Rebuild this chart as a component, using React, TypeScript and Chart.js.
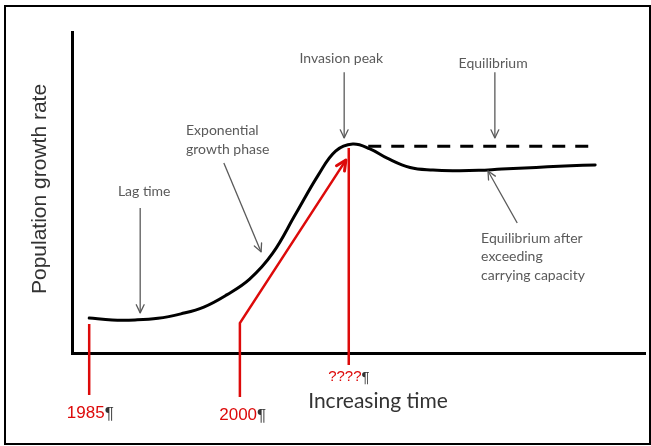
import React, { useEffect, useRef } from "react";
import { Chart, registerables } from "chart.js";

Chart.register(...registerables);

// Main population curve (time units 0..100, growth-rate units 0..100)
const curveX = [3, 7, 11, 15, 19, 23, 27, 31, 35, 39, 43, 46, 49, 52, 55, 59, 63, 67, 71, 75, 79, 83, 87, 91.3];
const curveY = [10.9, 10.3, 10.3, 10.8, 12.2, 14.3, 18.1, 23.0, 31.0, 43.2, 55.5, 62.9, 65.1, 63.6, 60.7, 57.8, 57.0, 56.8, 56.9, 57.3, 57.6, 58.0, 58.3, 58.6];

// Dashed equilibrium (carrying capacity) line
const equilibriumX = [51.7, 90.4];
const equilibriumY = [64.4, 64.4];

// Red year markers
const red1985X = [3, 3];
const red1985Y = [9, -13.1];
const red2000X = [29.3, 29.3, 47.8];
const red2000Y = [-13.7, 9.3, 60.1];
const redPeakX = [48.3, 48.3];
const redPeakY = [63.9, -3.7];

const yearLabels = ["1985", "2000", "????"];
const yearLabelX = [-0.9, 25.7, 44.7];
const yearLabelY = [-18.7, -19.3, -7.5];

const xAxisTitle = "Increasing time";
const yAxisTitle = "Population growth rate";

// Annotations
const noteTexts = [
  ["Lag time"],
  ["Exponential", "growth phase"],
  ["Invasion peak"],
  ["Equilibrium"],
  ["Equilibrium after", "exceeding", "carrying capacity"],
];
const noteX = [12.6, 19.9, 47.0, 73.5, 71.4];
const noteY = [50.2, 69.2, 91.9, 90.3, 35.8];
const noteAlign = ["center", "left", "center", "center", "left"];

const arrowFromX = [11.9, 26.5, 47.5, 73.8, 77.7];
const arrowFromY = [45.2, 59.2, 87.5, 87.5, 40.5];
const arrowToX = [11.9, 33.0, 47.5, 73.8, 72.6];
const arrowToY = [12.5, 31.5, 67.0, 67.0, 56.7];

const toPts = (xs: number[], ys: number[]) => xs.map((x, i) => ({ x, y: ys[i] }));

const RED = "#dd0a0a";
const GRAY = "#5a5a5a";

function arrowHead(
  ctx: CanvasRenderingContext2D,
  fx: number, fy: number, tx: number, ty: number,
  len: number, spread: number, color: string, width: number
) {
  const a = Math.atan2(ty - fy, tx - fx);
  ctx.save();
  ctx.strokeStyle = color;
  ctx.lineWidth = width;
  ctx.lineCap = "round";
  ctx.lineJoin = "round";
  ctx.beginPath();
  ctx.moveTo(tx - len * Math.cos(a - spread), ty - len * Math.sin(a - spread));
  ctx.lineTo(tx, ty);
  ctx.lineTo(tx - len * Math.cos(a + spread), ty - len * Math.sin(a + spread));
  ctx.stroke();
  ctx.restore();
}

const diagramPlugin = {
  id: "diagram",
  beforeDraw(chart: any) {
    const ctx = chart.ctx as CanvasRenderingContext2D;
    ctx.save();
    ctx.fillStyle = "#fff";
    ctx.fillRect(0, 0, chart.width, chart.height);
    ctx.strokeStyle = "#000";
    ctx.lineWidth = 2;
    ctx.strokeRect(5, 6, chart.width - 6, chart.height - 8);
    ctx.restore();
  },
  afterDatasetsDraw(chart: any) {
    const ctx = chart.ctx as CanvasRenderingContext2D;
    const xs = chart.scales.x;
    const ys = chart.scales.y;
    const px = (v: number) => xs.getPixelForValue(v);
    const py = (v: number) => ys.getPixelForValue(v);

    // red arrow head on the 2000 -> peak line
    const n = red2000X.length;
    arrowHead(ctx, px(red2000X[n - 2]), py(red2000Y[n - 2]), px(red2000X[n - 1]), py(red2000Y[n - 1]), 11, 0.45, RED, 3);

    // gray annotation arrows
    ctx.save();
    for (let i = 0; i < arrowFromX.length; i++) {
      const fx = px(arrowFromX[i]), fy = py(arrowFromY[i]);
      const tx = px(arrowToX[i]), ty = py(arrowToY[i]);
      ctx.strokeStyle = GRAY;
      ctx.lineWidth = 1.3;
      ctx.beginPath();
      ctx.moveTo(fx, fy);
      ctx.lineTo(tx, ty);
      ctx.stroke();
      arrowHead(ctx, fx, fy, tx, ty, 9, 0.45, GRAY, 1.3);
    }
    ctx.restore();

    // annotation text
    ctx.save();
    ctx.fillStyle = GRAY;
    ctx.font = "14px Lato";
    ctx.textBaseline = "middle";
    for (let i = 0; i < noteTexts.length; i++) {
      ctx.textAlign = noteAlign[i] as CanvasTextAlign;
      noteTexts[i].forEach((line, j) => {
        ctx.fillText(line, px(noteX[i]), py(noteY[i]) + j * 18.5);
      });
    }
    ctx.restore();

    // year labels (red) with pilcrow
    ctx.save();
    ctx.textBaseline = "middle";
    ctx.textAlign = "left";
    yearLabels.forEach((t, i) => {
      const size = i === 2 ? 15 : 17;
      ctx.font = `${size}px "Liberation Sans"`;
      ctx.fillStyle = RED;
      const x = px(yearLabelX[i]);
      const y = py(yearLabelY[i]);
      ctx.fillText(t, x, y);
      const w = ctx.measureText(t).width;
      ctx.fillStyle = "#333";
      ctx.fillText("\u00b6", x + w, y + 1);
    });
    ctx.restore();

    // axis titles
    ctx.save();
    ctx.fillStyle = "#333";
    ctx.textAlign = "center";
    ctx.textBaseline = "middle";
    ctx.font = "21px Lato";
    ctx.fillText(xAxisTitle, px(53.4), py(-15.1));
    ctx.translate(px(-5.6), py(51.1));
    ctx.rotate(-Math.PI / 2);
    ctx.font = '21px "Liberation Sans"';
    ctx.fillText(yAxisTitle, 0, 0);
    ctx.restore();
  },
};

export default function App() {
  const ref = useRef<HTMLCanvasElement | null>(null);

  useEffect(() => {
    if (!ref.current) return;
    const redLine = (data: { x: number; y: number }[]) => ({
      data,
      showLine: true,
      borderColor: RED,
      borderWidth: 2.5,
      pointRadius: 0,
      tension: 0,
      clip: false as any,
      fill: false,
    });
    const chart = new Chart(ref.current, {
      type: "scatter",
      data: {
        datasets: [
          {
            data: toPts(curveX, curveY),
            showLine: true,
            borderColor: "#000",
            borderWidth: 3,
            borderCapStyle: "round",
            pointRadius: 0,
            tension: 0.4,
            clip: false as any,
          },
          {
            data: toPts(equilibriumX, equilibriumY),
            showLine: true,
            borderColor: "#000",
            borderWidth: 3,
            borderDash: [13, 10],
            pointRadius: 0,
            clip: false as any,
          },
          redLine(toPts(red1985X, red1985Y)),
          redLine(toPts(red2000X, red2000Y)),
          redLine(toPts(redPeakX, redPeakY)),
        ] as any,
      },
      options: {
        animation: false,
        responsive: false,
        events: [],
        layout: { padding: { left: 72, top: 32, right: 6, bottom: 93 } },
        plugins: { legend: { display: false }, tooltip: { enabled: false } },
        scales: {
          x: {
            type: "linear",
            min: 0,
            max: 100,
            grid: { display: false, drawTicks: false },
            ticks: { display: false },
            border: { color: "#000", width: 3 },
            afterFit: (s: any) => { s.height = 0; },
          },
          y: {
            type: "linear",
            min: 0,
            max: 100,
            grid: { display: false, drawTicks: false },
            ticks: { display: false },
            border: { color: "#000", width: 3 },
            afterFit: (s: any) => { s.width = 0; },
          },
        },
      } as any,
      plugins: [diagramPlugin],
    });
    return () => chart.destroy();
  }, []);

  return (
    <canvas
      ref={ref}
      width={651}
      height={446}
      style={{ position: "absolute", left: 0, top: 0, width: 651, height: 446 }}
    />
  );
}
